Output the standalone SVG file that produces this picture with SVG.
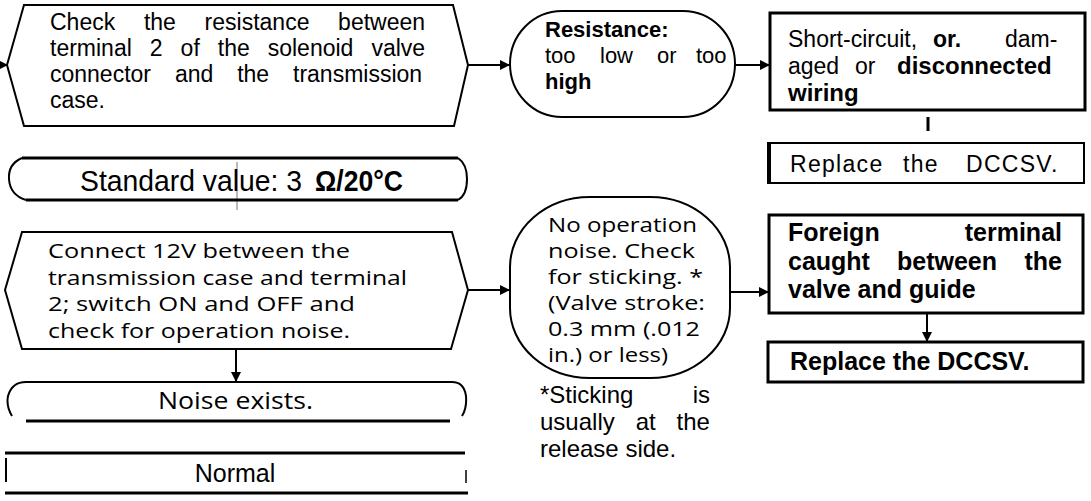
<svg xmlns="http://www.w3.org/2000/svg" width="1091" height="501" viewBox="0 0 1091 501">
<style>
.s{fill:none;stroke:#000;stroke-width:2}
.t{fill:none;stroke:#000;stroke-width:3}
.c{fill:none;stroke:#000;stroke-width:2}
.a{font-family:"Liberation Sans",Arial,sans-serif;font-size:23px;fill:#000}
.h{font-family:"Open Sans","Noto Sans",sans-serif;font-size:20px;fill:#000}
.b{font-weight:bold}
</style>
<defs>
<marker id="ar" markerUnits="userSpaceOnUse" viewBox="0 0 10 10" refX="10" refY="5" markerWidth="11" markerHeight="10" orient="auto"><path d="M0,0 L10,5 L0,10 Z" fill="#000"/></marker>
</defs>
<rect width="1091" height="501" fill="#fff"/>

<g id="connectors">
<path class="c" d="M0,65 L8,65" marker-end="url(#ar)"/>
<path class="c" d="M468,65 L510,65" marker-end="url(#ar)"/>
<path class="c" d="M735,65 L770,65" marker-end="url(#ar)"/>
<path class="t" d="M928,117 L928,131"/>
<path class="c" d="M468,290 L510,290" marker-end="url(#ar)"/>
<path class="c" d="M730,292 L769,292" marker-end="url(#ar)"/>
<path class="c" d="M927,313 L927,342" marker-end="url(#ar)"/>
<path class="c" d="M236,349 L236,382" marker-end="url(#ar)"/>
<path d="M237,162 L237,210" fill="none" stroke="#777" stroke-width="1"/>
</g>

<g id="check-resistance">
<path class="s" d="M24,5 L453,5 L468,65 L454,126 L24,126 L7,65 Z"/>
<text class="a" y="30"><tspan x="50">Check</tspan><tspan x="143.9">the</tspan><tspan x="204.6">resistance</tspan><tspan x="338.1">between</tspan></text>
<text class="a" y="56"><tspan x="50">terminal</tspan><tspan x="149.8">2</tspan><tspan x="180.6">of</tspan><tspan x="217.8">the</tspan><tspan x="267.7">solenoid</tspan><tspan x="371.4">valve</tspan></text>
<text class="a" y="82"><tspan x="50">connector</tspan><tspan x="174.9">and</tspan><tspan x="237.2">the</tspan><tspan x="293">transmission</tspan></text>
<text class="a" x="50" y="108">case.</text>
</g>

<g id="resistance-result">
<rect class="s" x="510" y="11" width="225" height="106" rx="52" ry="53"/>
<text class="a b" x="545" y="37" style="font-size:22px">Resistance:</text>
<text class="a" y="63" style="font-size:22px"><tspan x="545">too</tspan><tspan x="600">low</tspan><tspan x="657">or</tspan><tspan x="696">too</tspan></text>
<text class="a b" x="545" y="89" style="font-size:22px">high</text>
</g>

<g id="short-circuit">
<rect class="t" x="770" y="13" width="315" height="97"/>
<text class="a" y="47"><tspan x="788">Short-circuit,</tspan><tspan x="933" class="b">or.</tspan><tspan x="1005">dam-</tspan></text>
<text class="a" y="74"><tspan x="788">aged</tspan><tspan x="855">or</tspan><tspan x="897" class="b" style="font-size:24px">disconnected</tspan></text>
<text class="a b" x="788" y="101" style="font-size:24px">wiring</text>
</g>

<g id="replace-1">
<rect class="s" x="769" y="143" width="315" height="40"/>
<path d="M769,142 L769,184" stroke="#000" stroke-width="4"/>
<text class="a" y="172" letter-spacing="1.3"><tspan x="790">Replace</tspan><tspan x="903">the</tspan><tspan x="966">DCCSV.</tspan></text>
</g>

<g id="standard-value">
<path class="t" d="M22,158 L458,158 M26,200 L458,200"/>
<path class="s" d="M22,158 Q8,164 9,179 Q10,195 26,200"/>
<path class="s" d="M458,158 Q467,164 467,179 Q467,195 458,200"/>
<text class="a" x="80" y="191" style="font-size:29px" textLength="222" lengthAdjust="spacingAndGlyphs">Standard value: 3</text>
<text class="a b" x="315" y="191" style="font-size:29px" textLength="88" lengthAdjust="spacingAndGlyphs">Ω/20°C</text>
</g>

<g id="connect-12v">
<path class="s" d="M22,232 L452,232 L468,290 L451,349 L22,349 L5,290 Z"/>
<text class="h" x="48" y="258" textLength="302" lengthAdjust="spacingAndGlyphs">Connect 12V between the</text>
<text class="h" x="48" y="284.5" textLength="359" lengthAdjust="spacingAndGlyphs">transmission case and terminal</text>
<text class="h" x="48" y="311" textLength="307" lengthAdjust="spacingAndGlyphs">2; switch ON and OFF and</text>
<text class="h" x="48" y="337.5" textLength="302" lengthAdjust="spacingAndGlyphs">check for operation noise.</text>
</g>

<g id="no-noise">
<rect class="s" x="510" y="197" width="220" height="181" rx="80" ry="70"/>
<text class="h" x="548" y="232" textLength="149" lengthAdjust="spacingAndGlyphs">No operation</text>
<text class="h" x="548" y="258" textLength="147" lengthAdjust="spacingAndGlyphs">noise. Check</text>
<text class="h" x="548" y="284" textLength="155" lengthAdjust="spacingAndGlyphs">for sticking. *</text>
<text class="h" x="548" y="310" textLength="157" lengthAdjust="spacingAndGlyphs">(Valve stroke:</text>
<text class="h" x="548" y="336" textLength="152" lengthAdjust="spacingAndGlyphs">0.3 mm (.012</text>
<text class="h" x="548" y="362" textLength="120" lengthAdjust="spacingAndGlyphs">in.) or less)</text>
</g>

<g id="sticking-note">
<text class="a" y="403" style="font-size:24px"><tspan x="540">*Sticking</tspan><tspan x="710" text-anchor="end">is</tspan></text>
<text class="a" y="430" style="font-size:24px"><tspan x="540">usually</tspan><tspan x="635.7">at</tspan><tspan x="676.6">the</tspan></text>
<text class="a" x="540" y="457" style="font-size:24px">release side.</text>
</g>

<g id="foreign-terminal">
<rect class="t" x="769" y="215" width="314" height="98"/>
<text class="a b" x="788" y="241" style="font-size:25px">Foreign</text>
<text class="a b" x="1062" y="241" text-anchor="end" style="font-size:25px">terminal</text>
<text class="a b" y="270" style="font-size:25px"><tspan x="788">caught</tspan><tspan x="897">between</tspan><tspan x="1024.5">the</tspan></text>
<text class="a b" x="788" y="298" style="font-size:25px">valve and guide</text>
</g>

<g id="replace-2">
<rect class="t" x="768" y="342" width="315" height="40"/>
<text class="a b" x="790" y="370" style="font-size:25px">Replace the DCCSV.</text>
</g>

<g id="noise-exists">
<path class="s" d="M12,416 Q6,406 8,396 Q12,382 26,382 L452,382 Q464,382 466,396 Q467,408 462,416"/>
<path class="t" d="M26,421 L450,421"/>
<text class="h" x="158" y="409" style="font-size:23px;font-weight:500" textLength="155" lengthAdjust="spacingAndGlyphs">Noise exists.</text>
</g>

<g id="normal">
<path class="t" d="M5,453 L465,453 M5,493 L468,493"/>
<path class="s" d="M6,458 L6,482"/>
<path d="M466,470 L466,483" stroke="#000" stroke-width="1.5"/>
<text class="a" x="235" y="482" text-anchor="middle" style="font-size:25px">Normal</text>
</g>
</svg>
